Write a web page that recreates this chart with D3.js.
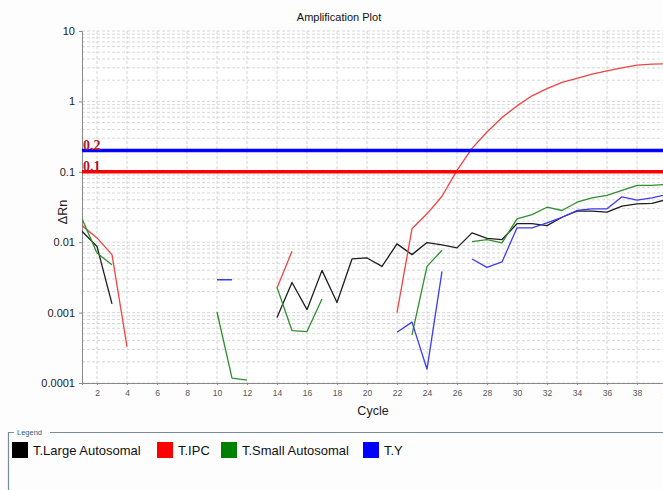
<!DOCTYPE html>
<html>
<head>
<meta charset="utf-8">
<script src="https://cdn.jsdelivr.net/npm/d3@7/dist/d3.min.js"></script>
<style>
  html, body { margin: 0; padding: 0; background: #fdfdfd; }
  svg { display: block; font-family: "Liberation Sans", Arial, sans-serif; }
</style>
</head>
<body>
<svg id="chart" width="663" height="490"></svg>
<script>
// Amplification plot: ΔRn per cycle (log scale) for four targets
const cycles = d3.range(1, 41);

const largeAutosomal = [0.0143, 0.0087, 0.00133, null, null, null, null, null, null, null,
  null, null, null, 0.00085, 0.00268, 0.0011, 0.00398, 0.00139, 0.00578, 0.00597,
  0.00454, 0.00946, 0.00666, 0.00987, 0.00916, 0.0083, 0.01356, 0.01137, 0.0109, 0.0183,
  0.0184, 0.0172, 0.0226, 0.0276, 0.0276, 0.0267, 0.0325, 0.0351, 0.0355, 0.0405];

const ipc = [0.0172, 0.0115, 0.00666, 0.000329, null, null, null, null, null, null,
  null, null, null, 0.00223, 0.00742, null, null, null, null, null,
  null, 0.001, 0.0155, 0.0253, 0.045, 0.105, 0.215, 0.368, 0.59, 0.863,
  1.2, 1.52, 1.86, 2.12, 2.44, 2.72, 3.0, 3.28, 3.39, 3.42];

const smallAutosomal = [0.0215, 0.0070, 0.0048, null, null, null, null, null, null, 0.00102,
  0.000117, 0.00011, null, 0.00228, 0.000556, 0.000538, 0.00156, null, null, null,
  null, null, 0.000483, 0.00454, 0.00767, null, 0.0102, 0.0109, 0.00977, 0.0215,
  0.0247, 0.0314, 0.0282, 0.037, 0.0427, 0.0461, 0.0543, 0.064, 0.064, 0.0662];

const targetY = [null, null, null, null, null, null, null, null, null, 0.00293,
  0.00293, null, null, null, null, null, null, null, null, null,
  null, 0.000527, 0.000732, 0.000157, 0.00385, null, 0.00578, 0.00439, 0.00524, 0.016,
  0.016, 0.0188, 0.0226, 0.0282, 0.0298, 0.0298, 0.0442, 0.0395, 0.0427, 0.0477];

const seriesNames = ["T.Large Autosomal", "T.IPC", "T.Small Autosomal", "T.Y"];
const seriesColors = ["#1e1e1e", "#ee4444", "#2f8f2f", "#3b3bf0"];
const legendColors = ["#000000", "#ff0000", "#008000", "#0000ff"];
const seriesValues = [largeAutosomal, ipc, smallAutosomal, targetY];

const thresholds = [0.2, 0.1];
const thresholdLabels = ["0.2", "0.1"];
const thresholdColors = ["#0000ff", "#ff0000"];

const yTicks = [10, 1, 0.1, 0.01, 0.001, 0.0001];
const yTickLabels = ["10", "1", "0.1", "0.01", "0.001", "0.0001"];
const xTicks = d3.range(2, 41, 2);

const svg = d3.select("#chart");
const plotLeft = 82, plotRight = 667, plotTop = 31, plotBottom = 383;

const x = d3.scaleLinear().domain([1, 40]).range([plotLeft, plotRight]);
const y = d3.scaleLog().domain([0.0001, 10]).range([plotBottom, plotTop]);

// plot background
svg.append("rect").attr("x", plotLeft).attr("y", plotTop)
  .attr("width", plotRight - plotLeft).attr("height", plotBottom - plotTop).attr("fill", "#ffffff");

// grid: minor/major log lines horizontally, even cycles vertically
const minorY = [];
for (let e = -4; e <= 0; e++) for (let m = 1; m <= 9; m++) minorY.push(m * Math.pow(10, e));
minorY.push(10);
svg.append("g").selectAll("line").data(minorY).join("line")
  .attr("x1", plotLeft).attr("x2", plotRight)
  .attr("y1", d => y(d)).attr("y2", d => y(d))
  .attr("stroke", "#d8d8d8").attr("stroke-width", 1).attr("stroke-dasharray", "3,2");
svg.append("g").selectAll("line").data(xTicks).join("line")
  .attr("x1", d => x(d)).attr("x2", d => x(d))
  .attr("y1", plotTop).attr("y2", plotBottom)
  .attr("stroke", "#d4d4d4").attr("stroke-width", 1).attr("stroke-dasharray", "3,2");

// axes
const yAxis = d3.axisLeft(y).tickValues(yTicks)
  .tickFormat((d, i) => yTickLabels[i]).tickSize(3).tickPadding(4);
const gy = svg.append("g").attr("transform", `translate(${plotLeft},0)`).call(yAxis);
gy.select(".domain").attr("stroke", "#888");
gy.selectAll(".tick line").attr("stroke", "#888");
gy.selectAll("text").attr("font-size", 11).attr("fill", "#222");

const xAxis = d3.axisBottom(x).tickValues(xTicks).tickSize(2).tickPadding(5);
const gx = svg.append("g").attr("transform", `translate(0,${plotBottom})`).call(xAxis);
gx.select(".domain").attr("stroke", "#888");
gx.selectAll(".tick line").attr("stroke", "#888");
gx.selectAll("text").attr("font-size", 8.5).attr("fill", "#555");

// series
const line = d3.line()
  .defined(d => d.v != null)
  .x(d => x(d.c)).y(d => y(d.v));

svg.append("defs").append("clipPath").attr("id", "plotClip")
  .append("rect").attr("x", plotLeft).attr("y", plotTop)
  .attr("width", plotRight - plotLeft).attr("height", plotBottom - plotTop + 1);

const plot = svg.append("g").attr("clip-path", "url(#plotClip)");
seriesValues.forEach((vals, i) => {
  const pts = cycles.map((c, k) => ({ c: c, v: vals[k] }));
  plot.append("path").datum(pts)
    .attr("d", line)
    .attr("fill", "none")
    .attr("stroke", seriesColors[i])
    .attr("stroke-width", 1.3)
    .attr("stroke-linejoin", "round");
});

// threshold lines with labels
thresholds.forEach((t, i) => {
  plot.append("line")
    .attr("x1", plotLeft).attr("x2", plotRight)
    .attr("y1", y(t)).attr("y2", y(t))
    .attr("stroke", thresholdColors[i]).attr("stroke-width", 3.5);
  svg.append("text")
    .attr("x", plotLeft + 1).attr("y", y(t) - 0.5)
    .attr("font-family", "'Liberation Serif', 'DejaVu Serif', serif")
    .attr("font-weight", "bold").attr("font-size", 14)
    .attr("fill", "#b3122a")
    .text(thresholdLabels[i]);
});

// titles
svg.append("text").attr("x", 339).attr("y", 21).attr("text-anchor", "middle")
  .attr("font-size", 11).attr("fill", "#111").text("Amplification Plot");
svg.append("text").attr("x", 373).attr("y", 415).attr("text-anchor", "middle")
  .attr("font-size", 12.5).attr("fill", "#222").text("Cycle");
svg.append("text").attr("transform", "translate(67,212) rotate(-90)")
  .attr("text-anchor", "middle").attr("font-size", 12.5).attr("fill", "#222").text("ΔRn");

// legend frame
const legend = svg.append("g");
legend.append("path")
  .attr("d", "M8.5,490 V432.5 H14 M50,432.5 H663")
  .attr("fill", "none").attr("stroke", "#7a8a99").attr("stroke-width", 1.2);
legend.append("text").attr("x", 17).attr("y", 435).attr("font-size", 7.5)
  .attr("fill", "#3a5a7a").text("Legend");

const legendX = [12, 157, 221, 363];
seriesNames.forEach((name, i) => {
  legend.append("rect").attr("x", legendX[i]).attr("y", 442)
    .attr("width", 16).attr("height", 16).attr("fill", legendColors[i]);
  legend.append("text").attr("x", legendX[i] + 21).attr("y", 455)
    .attr("font-size", 13).attr("fill", "#111").text(name);
});
</script>
</body>
</html>
